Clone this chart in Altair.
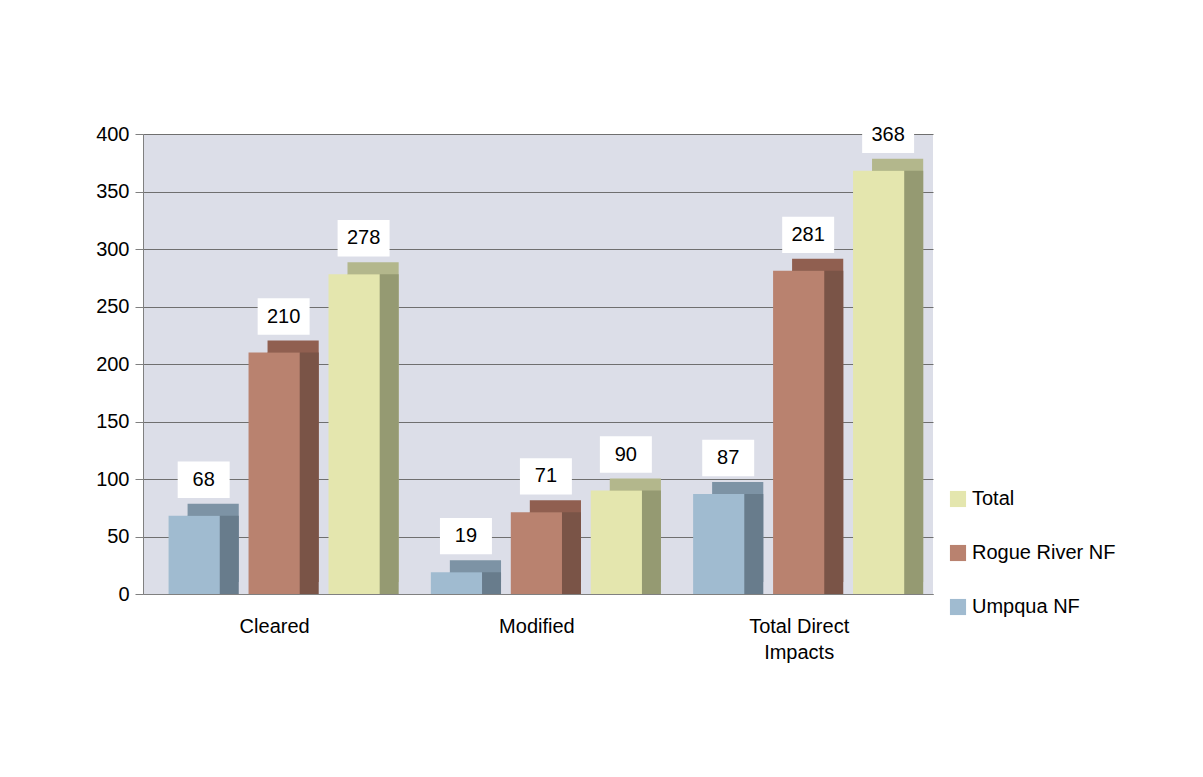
import altair as alt
import pandas as pd

categories = ["Cleared", "Modified", "Total Direct Impacts"]
series = ["Umpqua NF", "Rogue River NF", "Total"]
legend_order = ["Total", "Rogue River NF", "Umpqua NF"]
umpqua = [68, 19, 87]
rogue = [210, 71, 281]
total = [278, 90, 368]

front_colors = {"Umpqua NF": "#a0bbd0", "Rogue River NF": "#b9826f", "Total": "#e4e6ae"}
side_colors = {"Umpqua NF": "#687c8c", "Rogue River NF": "#7a5447", "Total": "#959a72"}
top_colors = {"Umpqua NF": "#7d93a5", "Rogue River NF": "#905f50", "Total": "#b3b78c"}

GROUP_STEP = 4.1
SERIES_STEP = 1.25
BAR_W = 0.8

rows = []
for si, (s, vals) in enumerate(zip(series, [umpqua, rogue, total])):
    for ci, (c, v) in enumerate(zip(categories, vals)):
        rows.append({"category": c, "series": s, "value": v, "ci": ci, "si": si})
df = pd.DataFrame(rows)

centers = [ci * GROUP_STEP + (2 * SERIES_STEP + BAR_W) / 2 for ci in range(len(categories))]
label_expr = (
    f"datum.value < {centers[0] + 1} ? '{categories[0]}' : "
    f"datum.value < {centers[1] + 1} ? '{categories[1]}' : ['Total Direct', 'Impacts']"
)

FONT = "Liberation Sans"
DX, DY = 19, 12

x_scale = alt.Scale(domain=[-0.4, 2 * GROUP_STEP + 2 * SERIES_STEP + BAR_W + 0.45], nice=False, zero=False)
x_enc = alt.X(
    "x0:Q",
    title=None,
    scale=x_scale,
    axis=alt.Axis(
        values=centers,
        labelExpr=label_expr,
        labelFontSize=20,
        labelFont=FONT,
        labelColor="#000000",
        labelPadding=22,
        labelLineHeight=26,
        labelAngle=0,
        labelFlush=False,
        domainColor="#808080",
        ticks=False,
        grid=False,
    ),
)
x2_enc = alt.X2("x1:Q")
y_enc = alt.Y(
    "value:Q",
    title=None,
    scale=alt.Scale(domain=[0, 400]),
    axis=alt.Axis(
        values=list(range(0, 401, 50)),
        labelFontSize=20,
        labelFont=FONT,
        labelColor="#000000",
        labelPadding=6,
        domainColor="#808080",
        tickColor="#808080",
        tickSize=8,
        gridColor="#6f6f6f",
        gridWidth=1,
    ),
)
y2_enc = alt.Y2(datum=0)


def color_enc(mapping, legend=None):
    return alt.Color(
        "series:N",
        scale=alt.Scale(domain=legend_order, range=[mapping[s] for s in legend_order]),
        legend=legend,
    )


base = alt.Chart(df).transform_calculate(
    x0=f"datum.ci * {GROUP_STEP} + datum.si * {SERIES_STEP}",
    x1=f"datum.ci * {GROUP_STEP} + datum.si * {SERIES_STEP} + {BAR_W}",
    xm=f"datum.ci * {GROUP_STEP} + datum.si * {SERIES_STEP} + {BAR_W / 2}",
)

top_layer = base.mark_rect(xOffset=DX, x2Offset=DX, yOffset=-DY, y2Offset=-DY).encode(
    x=x_enc, x2=x2_enc, y=y_enc, y2=y2_enc, color=color_enc(top_colors)
)
side_layer = base.mark_rect(xOffset=DX, x2Offset=DX).encode(
    x=x_enc, x2=x2_enc, y=y_enc, y2=y2_enc, color=color_enc(side_colors)
)
front_layer = base.mark_rect().encode(
    x=x_enc,
    x2=x2_enc,
    y=y_enc,
    y2=y2_enc,
    color=color_enc(
        front_colors,
        alt.Legend(
            title=None,
            orient="none",
            legendX=805,
            legendY=355,
            labelFontSize=20,
            labelFont=FONT,
            labelColor="#000000",
            symbolType="square",
            symbolSize=260,
            rowPadding=34,
        ),
    ),
)

xm_enc = alt.X("xm:Q", scale=x_scale)

box_layer = base.mark_point(
    shape="M-1,-0.7H1V0.7H-1Z",
    filled=True,
    fill="white",
    opacity=1,
    size=2700,
    yOffset=-36,
    xOffset=DX / 2,
).encode(x=xm_enc, y=y_enc)

text_layer = base.mark_text(
    fontSize=20, font=FONT, color="black", yOffset=-36, xOffset=DX / 2, baseline="middle"
).encode(x=xm_enc, y=y_enc, text=alt.Text("value:Q"))

chart = (
    alt.layer(top_layer, side_layer, front_layer, box_layer, text_layer)
    .resolve_scale(color="independent")
    .properties(
        width=790,
        height=460,
        padding={"left": 95, "top": 116, "right": 20, "bottom": 20},
        background="white",
    )
    .configure_view(fill="#dcdee8", stroke=None)
)

chart.save("out.html", embed_options={"renderer": "svg", "actions": False})
